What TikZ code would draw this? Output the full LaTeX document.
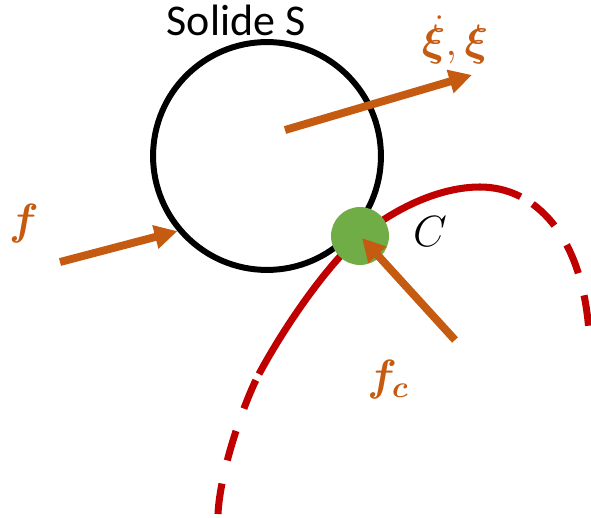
\documentclass[tikz,border=0pt]{standalone}
\usepackage{fontspec}
\setmainfont{Carlito}
\usepackage{bm}
\usetikzlibrary{arrows.meta}
\definecolor{orng}{HTML}{C55A11}
\definecolor{rd}{HTML}{C00000}
\definecolor{grn}{HTML}{70AD47}
\begin{document}
\begin{tikzpicture}[x=0.02cm,y=-0.02cm,
  force/.style={orng, line width=4.5pt, -{Triangle[length=13pt,width=13pt]}},
  mlabel/.style={font=\fontsize{27}{30}\selectfont},
  curve/.style={rd, line width=4pt},
]
\useasboundingbox (0,0) rectangle (591,517);
% red curve
\draw[curve, dash pattern=on 17.5pt off 13.5pt] (218,514) .. controls (220,470) and (245,400) .. (259,374);
\draw[curve] (259,374) .. controls (287,322) and (330,262) .. (360,237) .. controls (395,208) and (440,187) .. (480,187);
\draw[curve, dash pattern=on 24pt off 8pt on 17.5pt off 13pt on 17.5pt off 13pt on 17.5pt off 300pt] (480,187) .. controls (535,187) and (582,235) .. (589,332);
% solid S
\node[circle, draw=black, line width=3.4pt, minimum size=129.7pt, inner sep=0pt] (S) at (267,156) {};
% contact point
\node[circle, fill=grn, minimum size=33pt, inner sep=0pt] (C) at (360,236) {};
% labels
\node[font=\fontsize{25}{30}\selectfont] (title) at (236,20) {Solide S};
\node[mlabel, orng] (xil) at (455,40) {$\dot{\bm\xi},\bm\xi$};
\node[mlabel, orng] (fl) at (24,224) {$\bm f$};
\node[mlabel] (Cl) at (430,232) {$C$};
\node[mlabel, orng] (fcl) at (388,380) {$\bm{f_c}$};
% forces
\coordinate (xis) at (285,130);
\coordinate (xie) at (472,75);
\draw[force] (xis) -- (xie);
\coordinate (fs) at (60,262);
\draw[force] (fs) -- (S.220);
\coordinate (fcs) at (455,340);
\coordinate (fce) at (362,238);
\draw[force] (fcs) -- (fce);
\end{tikzpicture}
\end{document}
